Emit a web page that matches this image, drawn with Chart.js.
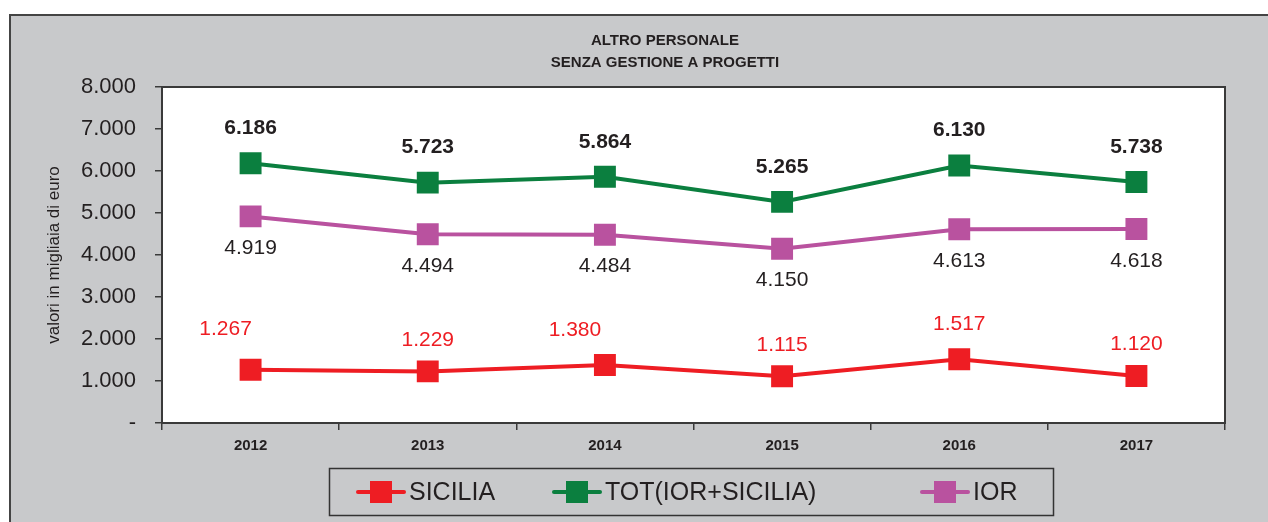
<!DOCTYPE html>
<html>
<head>
<meta charset="utf-8">
<script src="https://cdn.jsdelivr.net/npm/chart.js@4/dist/chart.umd.min.js"></script>
<style>
  html, body { margin: 0; padding: 0; background: #ffffff; }
  canvas { display: block; }
</style>
</head>
<body>
<canvas id="c" width="1268" height="522"></canvas>
<script>
// ---- data ----
const categories = ['2012', '2013', '2014', '2015', '2016', '2017'];
const sicilia = [1267, 1229, 1380, 1115, 1517, 1120];
const tot = [6186, 5723, 5864, 5265, 6130, 5738];
const ior = [4919, 4494, 4484, 4150, 4613, 4618];
const seriesNames = ['SICILIA', 'TOT(IOR+SICILIA)', 'IOR'];
const titleLines = ['ALTRO PERSONALE', 'SENZA GESTIONE A PROGETTI'];
const yAxisTitle = 'valori in migliaia di euro';

const FONT = '"Liberation Sans", Arial, Helvetica, sans-serif';
const RED = '#ee1d23', GREEN = '#0b7f3f', MAGENTA = '#b9529f';
const INK = '#231f20', FRAME = '#3a3a3a', GRAY = '#c8c9cb';

function fmt(v) {
  if (v === 0) return '-';
  return String(Math.round(v)).replace(/\B(?=(\d{3})+(?!\d))/g, '.');
}

const decorPlugin = {
  id: 'decor',
  beforeDraw(chart) {
    const ctx = chart.ctx, a = chart.chartArea;
    ctx.save();
    ctx.fillStyle = '#ffffff';
    ctx.fillRect(0, 0, chart.width, chart.height);
    ctx.fillStyle = GRAY;
    ctx.fillRect(10, 15, chart.width - 10, chart.height - 15);
    ctx.strokeStyle = '#444444';
    ctx.lineWidth = 2;
    ctx.beginPath();
    ctx.moveTo(10, chart.height);
    ctx.lineTo(10, 15);
    ctx.lineTo(chart.width, 15);
    ctx.stroke();
    ctx.fillStyle = '#ffffff';
    ctx.fillRect(a.left, a.top, a.right - a.left, a.bottom - a.top);
    // title
    ctx.fillStyle = INK;
    ctx.font = 'bold 15px ' + FONT;
    ctx.textAlign = 'center';
    ctx.textBaseline = 'middle';
    ctx.fillText(titleLines[0], 665, 41);
    ctx.fillText(titleLines[1], 665, 63);
    ctx.restore();
  },
  afterDraw(chart) {
    const ctx = chart.ctx, a = chart.chartArea;
    ctx.save();
    ctx.strokeStyle = FRAME;
    ctx.lineWidth = 2;
    ctx.strokeRect(a.left, a.top, a.right - a.left, a.bottom - a.top);
    // legend
    ctx.lineWidth = 1.5;
    ctx.strokeStyle = '#333333';
    ctx.strokeRect(329.5, 468.5, 724, 47);
    const xs = [358, 554, 922];
    const cy = 492;
    chart.data.datasets.forEach((ds, i) => {
      const x0 = xs[i];
      ctx.strokeStyle = ds.borderColor;
      ctx.lineWidth = 4;
      ctx.lineCap = 'round';
      ctx.beginPath();
      ctx.moveTo(x0, cy);
      ctx.lineTo(x0 + 46, cy);
      ctx.stroke();
      ctx.fillStyle = ds.borderColor;
      ctx.fillRect(x0 + 23 - 11, cy - 11, 22, 22);
      ctx.fillStyle = INK;
      ctx.font = '25px ' + FONT;
      ctx.textAlign = 'left';
      ctx.textBaseline = 'middle';
      ctx.fillText(ds.label, x0 + 51, cy + 1);
    });
    ctx.restore();
  },
  afterDatasetsDraw(chart) {
    const ctx = chart.ctx;
    ctx.save();
    ctx.textAlign = 'center';
    ctx.textBaseline = 'middle';
    chart.data.datasets.forEach((ds, i) => {
      const meta = chart.getDatasetMeta(i);
      const lab = ds.labelStyle;
      ctx.font = lab.font;
      ctx.fillStyle = lab.color;
      meta.data.forEach((pt, j) => {
        const dx = lab.dx ? lab.dx[j] : 0;
        const dy = Array.isArray(lab.dy) ? lab.dy[j] : lab.dy;
        ctx.fillText(fmt(ds.data[j]), pt.x + dx, pt.y + dy);
      });
    });
    ctx.restore();
  }
};

const common = { borderWidth: 4, pointStyle: 'rect', pointRadius: 15.5, pointHoverRadius: 15.5, pointBorderWidth: 0, tension: 0, fill: false };

new Chart(document.getElementById('c'), {
  type: 'line',
  data: {
    labels: categories,
    datasets: [
      Object.assign({ label: seriesNames[0], data: sicilia, borderColor: RED, backgroundColor: RED, pointBackgroundColor: RED, pointBorderColor: RED,
        labelStyle: { font: '21px ' + FONT, color: RED, dx: [-25, 0, -30, 0, 0, 0], dy: [-41, -31, -35, -31, -35, -32] } }, common),
      Object.assign({ label: seriesNames[1], data: tot, borderColor: GREEN, backgroundColor: GREEN, pointBackgroundColor: GREEN, pointBorderColor: GREEN,
        labelStyle: { font: 'bold 21px ' + FONT, color: INK, dy: -35 } }, common),
      Object.assign({ label: seriesNames[2], data: ior, borderColor: MAGENTA, backgroundColor: MAGENTA, pointBackgroundColor: MAGENTA, pointBorderColor: MAGENTA,
        labelStyle: { font: '21px ' + FONT, color: INK, dy: 32 } }, common)
    ]
  },
  options: {
    responsive: false,
    animation: false,
    events: [],
    layout: { padding: { left: 0, right: 43, top: 87, bottom: 0 } },
    plugins: { legend: { display: false }, title: { display: false }, tooltip: { enabled: false } },
    scales: {
      x: {
        type: 'category',
        offset: true,
        afterFit(s) { s.height = 99; },
        grid: { offset: true, drawOnChartArea: false, drawTicks: true, tickLength: 7, color: FRAME, lineWidth: 1.5 },
        border: { display: true, color: FRAME, width: 2 },
        ticks: { color: INK, font: { family: FONT, size: 15, weight: 'bold' }, padding: 7, maxRotation: 0 }
      },
      y: {
        min: 0, max: 8000,
        afterFit(s) { s.width = 162; },
        grid: { drawOnChartArea: false, drawTicks: true, tickLength: 7, color: FRAME, lineWidth: 1.5 },
        border: { display: true, color: FRAME, width: 2 },
        ticks: { stepSize: 1000, color: INK, font: { family: FONT, size: 22 }, padding: 19, callback: v => fmt(v) },
        title: { display: true, text: yAxisTitle, color: INK, font: { family: FONT, size: 17 }, padding: { top: 44, bottom: 0 } }
      }
    }
  },
  plugins: [decorPlugin]
});
</script>
</body>
</html>
